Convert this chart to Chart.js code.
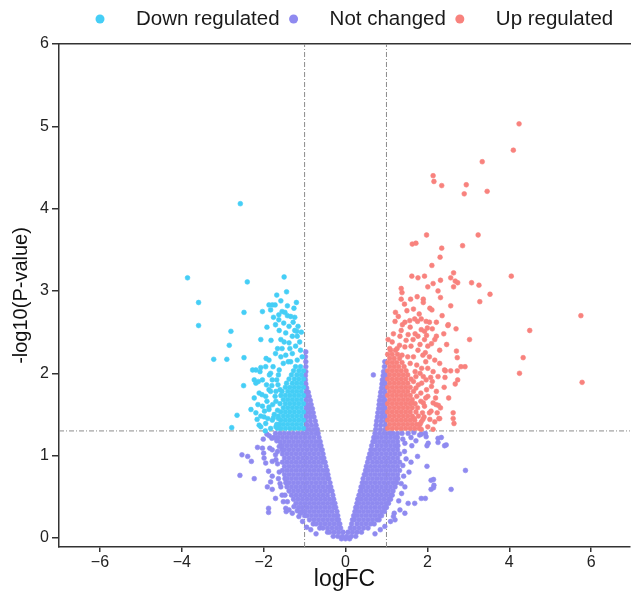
<!DOCTYPE html>
<html>
<head>
<meta charset="utf-8">
<title>Volcano plot</title>
<script src="https://cdn.jsdelivr.net/npm/chart.js@4.4.1/dist/chart.umd.min.js"></script>
<style>
  html, body { margin: 0; padding: 0; background: #fff; }
  #wrap { width: 633px; height: 596px; }
</style>
</head>
<body>
<div id="wrap"><canvas id="volcano" width="633" height="596"></canvas></div>
<script>
// axis ticks and limits
const xTicks = [-6, -4, -2, 0, 2, 4, 6];
const yTicks = [0, 1, 2, 3, 4, 5, 6];
const xMin = -7, xMax = 6.95, yMin = -0.11, yMax = 6;
const fcCut = 1;      // |logFC| threshold
const pCut = 1.3;     // -log10(0.05)

const groupLabels = ['Down regulated', 'Not changed', 'Up regulated'];
const groupColors = ['#45CEF6', '#8F8AF0', '#F8827D'];

// Not changed: rows [y, x, x, ...] read off the dense V cloud
const flatRows = [
  [-0.01, -0.10, 0, 0.10],
  [0.02, -0.30, -0.19, -0.08, 0.03, 0.14, 0.25],
  [0.07, -0.44, -0.39, -0.28, -0.17, -0.06, 0.06, 0.17, 0.28, 0.39],
  [0.12, -0.63, -0.55, -0.44, -0.33, -0.22, -0.12, 0.12, 0.22, 0.33, 0.44, 0.55],
  [0.17, -0.79, -0.72, -0.61, -0.50, -0.39, -0.28, -0.17, -0.14, 0.15, 0.28, 0.39, 0.50, 0.61, 0.70],
  [0.22, -0.88, -0.77, -0.66, -0.55, -0.44, -0.33, -0.22, -0.17, 0.17, 0.22, 0.33, 0.44, 0.55, 0.66, 0.77, 0.82],
  [0.27, -1.00, -0.94, -0.83, -0.72, -0.61, -0.50, -0.39, -0.28, -0.19, 0.20, 0.28, 0.39, 0.50, 0.61, 0.72, 0.83, 0.88],
  [0.32, -1.08, -0.99, -0.88, -0.77, -0.66, -0.55, -0.44, -0.33, -0.21, 0.23, 0.33, 0.44, 0.55, 0.66, 0.77, 0.88, 0.95],
  [0.37, -1.15, -1.05, -0.94, -0.83, -0.72, -0.61, -0.50, -0.39, -0.28, -0.24, 0.25, 0.28, 0.39, 0.50, 0.61, 0.72, 0.83, 0.94, 1.00],
  [0.42, -1.21, -1.10, -0.99, -0.88, -0.77, -0.66, -0.55, -0.44, -0.33, -0.26, 0.28, 0.33, 0.44, 0.55, 0.66, 0.77, 0.88, 0.99, 1.05],
  [0.47, -1.27, -1.16, -1.05, -0.94, -0.83, -0.72, -0.61, -0.50, -0.39, -0.29, 0.30, 0.39, 0.50, 0.61, 0.72, 0.83, 0.94, 1.05, 1.10],
  [0.52, -1.32, -1.21, -1.10, -0.99, -0.88, -0.77, -0.66, -0.55, -0.44, -0.31, 0.33, 0.44, 0.55, 0.66, 0.77, 0.88, 0.99, 1.10, 1.14],
  [0.57, -1.38, -1.27, -1.16, -1.05, -0.94, -0.83, -0.72, -0.61, -0.50, -0.39, -0.33, 0.36, 0.39, 0.50, 0.61, 0.72, 0.83, 0.94, 1.05, 1.16],
  [0.62, -1.43, -1.32, -1.21, -1.10, -0.99, -0.88, -0.77, -0.66, -0.55, -0.44, -0.36, 0.38, 0.44, 0.55, 0.66, 0.77, 0.88, 0.99, 1.10, 1.21],
  [0.67, -1.46, -1.38, -1.27, -1.16, -1.05, -0.94, -0.83, -0.72, -0.61, -0.50, -0.38, 0.41, 0.50, 0.61, 0.72, 0.83, 0.94, 1.05, 1.16, 1.25],
  [0.72, -1.48, -1.43, -1.32, -1.21, -1.10, -0.99, -0.88, -0.77, -0.66, -0.55, -0.44, -0.41, 0.43, 0.55, 0.66, 0.77, 0.88, 0.99, 1.10, 1.21, 1.28],
  [0.77, -1.49, -1.38, -1.27, -1.16, -1.05, -0.94, -0.83, -0.72, -0.61, -0.50, -0.43, 0.46, 0.50, 0.61, 0.72, 0.83, 0.94, 1.05, 1.16, 1.27],
  [0.82, -1.54, -1.43, -1.32, -1.21, -1.10, -0.99, -0.88, -0.77, -0.66, -0.55, -0.45, 0.49, 0.55, 0.66, 0.77, 0.88, 0.99, 1.10, 1.21, 1.32],
  [0.87, -1.49, -1.38, -1.27, -1.16, -1.05, -0.94, -0.83, -0.72, -0.61, -0.48, 0.51, 0.61, 0.72, 0.83, 0.94, 1.05, 1.16, 1.27],
  [0.92, -1.54, -1.43, -1.32, -1.21, -1.10, -0.99, -0.88, -0.77, -0.66, -0.55, -0.50, 0.54, 0.66, 0.77, 0.88, 0.99, 1.10, 1.21, 1.32],
  [0.97, -1.49, -1.38, -1.27, -1.16, -1.05, -0.94, -0.83, -0.72, -0.61, -0.53, 0.56, 0.61, 0.72, 0.83, 0.94, 1.05, 1.16, 1.27],
  [1.02, -1.54, -1.43, -1.32, -1.21, -1.10, -0.99, -0.88, -0.77, -0.66, -0.55, 0.59, 0.66, 0.77, 0.88, 0.99, 1.10, 1.21, 1.32],
  [1.07, -1.55, -1.49, -1.38, -1.27, -1.16, -1.05, -0.94, -0.83, -0.72, -0.61, -0.57, 0.62, 0.72, 0.83, 0.94, 1.05, 1.16, 1.27],
  [1.12, -1.58, -1.54, -1.43, -1.32, -1.21, -1.10, -0.99, -0.88, -0.77, -0.66, -0.60, 0.64, 0.77, 0.88, 0.99, 1.10, 1.21, 1.28],
  [1.17, -1.60, -1.49, -1.38, -1.27, -1.16, -1.05, -0.94, -0.83, -0.72, -0.62, 0.67, 0.72, 0.83, 0.94, 1.05, 1.16, 1.27],
  [1.22, -1.65, -1.54, -1.43, -1.32, -1.21, -1.10, -0.99, -0.88, -0.77, -0.65, 0.69, 0.77, 0.88, 0.99, 1.10, 1.21, 1.27],
  [1.27, -1.71, -1.60, -1.49, -1.38, -1.27, -1.16, -1.05, -0.94, -0.83, -0.72, -0.67, 0.72, 0.83, 0.94, 1.05, 1.16, 1.27],
  [1.32, -0.97, -0.88, -0.77, -0.69, 0.74, 0.85, 0.97],
  [1.37, -0.94, -0.83, -0.72, 0.75, 0.86, 0.97],
  [1.42, -0.97, -0.86, -0.74, 0.76, 0.87, 0.97],
  [1.47, -0.96, -0.86, -0.77, 0.78, 0.88, 0.97],
  [1.52, -0.97, -0.88, -0.79, 0.79, 0.89, 0.97],
  [1.57, -0.96, -0.88, -0.81, 0.81, 0.90, 0.97],
  [1.62, -0.97, -0.90, -0.84, 0.82, 0.91, 0.97],
  [1.67, -0.96, -0.86, 0.83, 0.92, 0.97],
  [1.72, -0.97, -0.89, 0.85, 0.94],
  [1.77, -0.96, -0.91, 0.86, 0.96],
  [1.82, -0.95, 0.88, 0.97],
  [1.87, -0.97, 0.89, 0.97],
  [1.92, -0.98, 0.90, 0.97],
  [1.97, -0.98, 0.92, 0.98],
  [2.02, -0.97, 0.93, 0.98],
  [2.08, -0.97, 0.95],
  [2.14, -0.97, 0.96],
  [2.20, -0.98],
  [2.26, -0.97]
];

// Not changed: loose points around the cloud [x, y]
const flatLoose = [
  [-2.53, 1.01], [-2.39, 0.99], [-2.30, 0.93], [-2.58, 0.76], [-2.23, 0.72], [-2.15, 1.10],
  [-2.01, 1.20], [-1.85, 1.09], [-1.99, 0.97], [-1.95, 0.91], [-1.79, 1.07], [-1.71, 1.01],
  [-1.88, 0.81], [-1.79, 0.75], [-1.91, 0.62], [-1.79, 0.59], [-1.71, 0.48], [-1.88, 0.36],
  [-1.88, 0.31], [-1.46, 0.36], [-1.45, 0.32], [-1.30, 0.30], [-1.18, 0.33], [-1.10, 0.30],
  [-1.55, 0.52], [-1.83, 0.68], [-1.38, 0.34], [-1.26, 0.38], [-1.14, 0.26], [-1.62, 1.11],
  [-2.03, 1.09], [-2.00, 1.03], [-1.79, 0.93], [-1.75, 1.22], [-1.86, 1.24], [-1.62, 0.80],
  [-1.60, 0.66], [-1.42, 0.44], [-1.05, 0.20], [-0.95, 0.13], [-0.85, 0.10], [-0.72, 0.05],
  [-1.66, 0.90], [-1.68, 1.18], [-1.66, 1.05], [-1.70, 0.95], [-1.64, 0.72], [-1.58, 0.62],
  [-1.80, 1.21], [-1.52, 0.44], [-1.48, 0.52], [-1.92, 1.26],
  [1.53, 1.27], [1.67, 1.28], [1.81, 1.25], [1.95, 1.27], [2.26, 1.21], [2.42, 1.12],
  [2.26, 1.16], [1.99, 1.12], [1.76, 0.99], [1.99, 0.87], [2.09, 0.70], [2.58, 0.59],
  [2.09, 0.59], [1.85, 0.48], [1.69, 0.42], [1.53, 0.42], [1.45, 0.62], [1.37, 0.54],
  [1.19, 0.30], [1.17, 0.26], [2.34, 1.22], [2.46, 1.13], [2.93, 0.82], [1.12, 1.27],
  [1.85, 1.26], [1.97, 1.23], [2.02, 1.15], [2.15, 0.71], [2.15, 0.61], [1.95, 0.48],
  [1.45, 0.30], [1.33, 0.34], [1.21, 0.22], [0.96, 0.14], [0.85, 0.10], [0.72, 0.05],
  [1.40, 1.20], [1.44, 1.05], [1.40, 0.88], [1.42, 0.75], [1.55, 0.80], [1.48, 0.96],
  [1.36, 0.66], [1.30, 0.45], [1.38, 1.27], [1.45, 1.15], [1.60, 1.22], [1.72, 1.18],
  [1.60, 0.92], [1.62, 1.12], [1.10, 0.20], [0.68, 1.98], [2.16, 0.64]
];

// Down regulated: dense block rows [y, x, ...] and loose points [x, y]
const downRows = [
  [1.33, -1.03, -1.14, -1.25, -1.36, -1.47, -1.58, -1.66],
  [1.38, -1.08, -1.19, -1.30, -1.41, -1.52, -1.62],
  [1.43, -1.03, -1.14, -1.25, -1.36, -1.47, -1.58],
  [1.48, -1.08, -1.19, -1.30, -1.41, -1.52, -1.64],
  [1.53, -1.03, -1.14, -1.25, -1.36, -1.47, -1.58],
  [1.58, -1.08, -1.19, -1.30, -1.41, -1.52],
  [1.63, -1.03, -1.14, -1.25, -1.36, -1.47, -1.60],
  [1.68, -1.08, -1.19, -1.30, -1.41, -1.52],
  [1.73, -1.03, -1.14, -1.25, -1.36, -1.47, -1.58],
  [1.78, -1.08, -1.19, -1.30, -1.41, -1.55],
  [1.83, -1.03, -1.14, -1.25, -1.36, -1.47],
  [1.88, -1.08, -1.19, -1.30, -1.44],
  [1.93, -1.03, -1.14, -1.25, -1.38],
  [1.98, -1.08, -1.19, -1.32],
  [2.03, -1.03, -1.14, -1.27],
  [2.08, -1.10, -1.22]
];
const downLoose = [
  [-2.57, 4.06], [-3.86, 3.16], [-2.40, 3.11], [-1.50, 3.17], [-1.44, 2.99], [-1.68, 2.95],
  [-3.59, 2.86], [-3.59, 2.58], [-2.48, 2.74], [-1.87, 2.83], [-1.79, 2.83], [-1.72, 2.83],
  [-1.83, 2.77], [-2.03, 2.75], [-2.80, 2.51], [-2.84, 2.34], [-2.07, 2.41], [-3.22, 2.17],
  [-2.90, 2.17], [-2.48, 2.19], [-2.49, 1.85], [-2.65, 1.49], [-2.78, 1.34],
  [-1.55, 2.75], [-1.48, 2.74], [-1.63, 2.71], [-1.42, 2.70], [-1.26, 2.79], [-1.34, 2.69],
  [-1.24, 2.68], [-1.71, 2.59], [-1.63, 2.65], [-1.51, 2.61], [-1.16, 2.57], [-1.19, 2.51],
  [-1.38, 2.57], [-1.18, 2.45], [-1.30, 2.45], [-1.46, 2.49], [-1.58, 2.41], [-1.38, 2.37],
  [-1.22, 2.33], [-1.55, 2.30], [-1.71, 2.24], [-1.46, 2.22], [-1.30, 2.24], [-1.10, 2.28],
  [-1.87, 2.16], [-2.19, 2.04], [-2.09, 2.02], [-1.95, 2.08], [-1.83, 2.00], [-2.03, 1.92],
  [-1.93, 1.86], [-2.19, 1.88], [-1.79, 1.92], [-2.11, 1.76], [-2.23, 1.70], [-1.95, 1.72],
  [-1.83, 1.78], [-2.03, 1.60], [-1.87, 1.56], [-2.07, 1.48], [-1.95, 1.39], [-1.79, 1.43],
  [-1.83, 1.33], [-2.11, 1.37], [-2.19, 1.52], [-2.31, 1.56], [-2.27, 2.04], [-2.23, 1.92],
  [-2.13, 1.90], [-2.07, 2.07], [-1.87, 1.80], [-1.87, 1.59], [-1.99, 1.47], [-2.07, 1.35],
  [-1.70, 1.66], [-1.68, 1.38], [-1.74, 1.50], [-1.65, 1.86], [-1.62, 2.04], [-1.40, 2.14],
  [-1.52, 2.12], [-1.64, 1.98], [-1.72, 1.72],
  [-1.70, 1.35], [-1.76, 1.46], [-1.66, 1.55], [-1.78, 1.62], [-1.70, 1.78], [-1.80, 1.85],
  [-1.68, 1.92], [-1.77, 2.08], [-1.58, 2.20], [-1.92, 1.66], [-1.98, 1.54], [-1.90, 1.45],
  [-1.96, 1.30], [-2.04, 1.74], [-1.60, 1.80], [-1.64, 1.45], [-1.86, 1.98], [-1.94, 2.18],
  [-2.14, 1.62], [-2.16, 1.44], [-1.12, 2.38], [-1.24, 2.52], [-1.36, 2.30], [-1.50, 2.38],
  [-1.62, 2.52], [-1.28, 2.62], [-1.42, 2.82], [-1.58, 2.88], [-1.76, 2.68], [-1.92, 2.56],
  [-1.06, 2.20], [-1.18, 2.16], [-1.34, 2.14], [-1.20, 2.86], [-1.66, 2.30], [-1.82, 2.40],
  [-1.08, 2.50]
];

// Up regulated: dense block rows [y, x, ...] and loose points [x, y]
const upRows = [
  [1.33, 1.03, 1.14, 1.25, 1.36, 1.47, 1.58, 1.69, 1.80],
  [1.38, 1.08, 1.19, 1.30, 1.41, 1.52, 1.63, 1.74],
  [1.43, 1.03, 1.14, 1.25, 1.36, 1.47, 1.58, 1.69],
  [1.48, 1.08, 1.19, 1.30, 1.41, 1.52, 1.63, 1.78],
  [1.53, 1.03, 1.14, 1.25, 1.36, 1.47, 1.58, 1.72],
  [1.58, 1.08, 1.19, 1.30, 1.41, 1.52, 1.63],
  [1.63, 1.03, 1.14, 1.25, 1.36, 1.47, 1.58, 1.70],
  [1.68, 1.08, 1.19, 1.30, 1.41, 1.52, 1.63],
  [1.73, 1.03, 1.14, 1.25, 1.36, 1.47, 1.58],
  [1.78, 1.08, 1.19, 1.30, 1.41, 1.52, 1.66],
  [1.83, 1.03, 1.14, 1.25, 1.36, 1.47, 1.58],
  [1.88, 1.08, 1.19, 1.30, 1.41, 1.52],
  [1.93, 1.03, 1.14, 1.25, 1.36, 1.47, 1.60],
  [1.98, 1.08, 1.19, 1.30, 1.41, 1.52],
  [2.03, 1.03, 1.14, 1.25, 1.36, 1.48],
  [2.08, 1.08, 1.19, 1.30, 1.43],
  [2.13, 1.03, 1.14, 1.25, 1.38],
  [2.18, 1.08, 1.19, 1.32],
  [2.23, 1.03, 1.14, 1.27],
  [2.28, 1.10, 1.22]
];
const upLoose = [
  [4.24, 5.03], [4.10, 4.71], [3.34, 4.57], [2.14, 4.40], [2.16, 4.33], [2.35, 4.28],
  [2.95, 4.29], [2.90, 4.18], [3.46, 4.21], [1.98, 3.68], [3.24, 3.68], [1.63, 3.57],
  [1.72, 3.58], [2.86, 3.55], [2.35, 3.52], [2.31, 3.41], [2.11, 3.31], [4.05, 3.18],
  [1.62, 3.18], [1.77, 3.16], [1.93, 3.18], [2.64, 3.22], [2.57, 3.16], [2.68, 3.12],
  [2.74, 3.10], [2.32, 3.13], [2.14, 3.09], [2.01, 3.05], [3.08, 3.10], [3.26, 3.07],
  [2.64, 3.05], [1.36, 3.03], [1.38, 2.98], [1.36, 2.90], [3.53, 2.96], [3.28, 2.87],
  [2.26, 3.00], [2.32, 2.92], [1.59, 2.90], [1.75, 2.93], [1.90, 2.90], [1.90, 2.86],
  [1.50, 2.76], [2.06, 2.79], [2.11, 2.77], [2.57, 2.82], [5.75, 2.70], [4.50, 2.52],
  [3.03, 2.41], [4.34, 2.19], [4.25, 2.00], [5.78, 1.89], [2.70, 2.54], [2.50, 2.58],
  [2.47, 2.35], [2.71, 2.27], [2.73, 2.19], [2.92, 2.08], [2.82, 2.08], [2.73, 2.03],
  [2.57, 2.03], [2.44, 2.03], [2.74, 1.92], [2.68, 1.87], [2.43, 1.95], [2.41, 1.83],
  [2.52, 1.70], [2.63, 1.52], [2.63, 1.45], [2.65, 1.39], [2.28, 1.45], [2.21, 1.62],
  [2.27, 1.61], [1.90, 1.64], [2.09, 1.54], [1.85, 1.41], [2.32, 1.58], [2.30, 1.45],
  [1.29, 2.69], [1.21, 2.63], [1.39, 2.59], [1.45, 2.62], [1.57, 2.64], [1.69, 2.66],
  [1.76, 2.63], [1.85, 2.66], [1.97, 2.63], [2.05, 2.62], [2.00, 2.55], [1.93, 2.51],
  [1.85, 2.53], [2.51, 2.59], [2.22, 2.62], [2.18, 2.41], [2.22, 2.45], [2.10, 2.36],
  [2.01, 2.33], [1.93, 2.41], [1.77, 2.45], [1.65, 2.41], [1.53, 2.47], [1.33, 2.45],
  [1.17, 2.48], [1.04, 2.41], [1.45, 2.32], [1.77, 2.28], [1.89, 2.22], [2.05, 2.20],
  [2.18, 2.16], [2.30, 2.12], [2.01, 2.06], [2.14, 2.02], [2.26, 1.96], [1.97, 1.92],
  [2.10, 1.84], [2.22, 1.78], [2.01, 1.72], [2.14, 1.64], [1.93, 1.60], [2.05, 1.52],
  [1.89, 1.44], [2.01, 1.35], [2.18, 1.41], [1.85, 1.32], [2.42, 2.04], [1.66, 2.20],
  [1.58, 2.12], [1.70, 2.02], [1.78, 1.86], [1.72, 1.96], [1.84, 1.76], [1.90, 1.96],
  [1.60, 2.33], [1.32, 2.34], [1.88, 1.52], [1.98, 1.80], [2.08, 1.95],
  [1.82, 1.38], [1.92, 1.47], [1.76, 1.58], [1.84, 1.66], [1.96, 1.70], [1.72, 1.82],
  [1.86, 1.88], [1.66, 1.90], [1.74, 2.10], [1.86, 2.06], [1.96, 2.14], [2.12, 1.90],
  [2.20, 1.70], [2.06, 1.44], [2.14, 1.32], [2.24, 1.52], [1.68, 1.45], [1.74, 1.72],
  [1.62, 1.64], [1.82, 2.00], [1.14, 2.38], [1.26, 2.30], [1.36, 2.52], [1.48, 2.40],
  [1.58, 2.56], [1.70, 2.48], [1.82, 2.35], [1.98, 2.46], [2.12, 2.54], [2.30, 2.28],
  [1.22, 2.74], [1.44, 2.84], [1.66, 2.78], [1.80, 2.72], [1.08, 2.30], [1.38, 2.22],
  [1.52, 2.20], [2.36, 2.70], [2.40, 2.48], [1.95, 2.25]
];

const toRowPoints = rows => rows.flatMap(([y, ...xs]) => xs.map(x => ({ x, y })));
const toPairPoints = pairs => pairs.map(([x, y]) => ({ x, y }));

const fontFamily = '"Liberation Sans", Arial, Helvetica, sans-serif';

function pointSet(label, color, points) {
  return {
    label: label,
    data: points,
    backgroundColor: color,
    borderColor: color,
    pointRadius: 2.4,
    pointBorderWidth: 0.6,
    pointHoverRadius: 2.4
  };
}

function cutLine(points) {
  return {
    label: 'cut',
    data: points,
    showLine: true,
    borderColor: '#8c8c8c',
    borderWidth: 1,
    borderDash: [5, 2, 1, 2],
    pointRadius: 0,
    fill: false
  };
}

// legend drawn in one row above the plot
const topLegend = {
  id: 'topLegend',
  afterDraw(chart) {
    const ctx = chart.ctx;
    ctx.save();
    ctx.font = '20.5px ' + fontFamily;
    ctx.textBaseline = 'middle';
    let x = 100;
    const y = 19;
    groupLabels.forEach((label, i) => {
      ctx.fillStyle = groupColors[i];
      ctx.beginPath();
      ctx.arc(x, y, 4.5, 0, Math.PI * 2);
      ctx.fill();
      ctx.fillStyle = '#1a1a1a';
      ctx.fillText(label, x + 36, y);
      x += 36 + ctx.measureText(label).width + 14;
    });
    ctx.restore();
  }
};

const ctx = document.getElementById('volcano').getContext('2d');
const volcanoChart = new Chart(ctx, {
  type: 'scatter',
  data: {
    datasets: [
      pointSet(groupLabels[0], groupColors[0], toRowPoints(downRows).concat(toPairPoints(downLoose))),
      pointSet(groupLabels[2], groupColors[2], toRowPoints(upRows).concat(toPairPoints(upLoose))),
      pointSet(groupLabels[1], groupColors[1], toRowPoints(flatRows).concat(toPairPoints(flatLoose))),
      cutLine([{ x: -fcCut, y: yMin }, { x: -fcCut, y: yMax }]),
      cutLine([{ x: fcCut, y: yMin }, { x: fcCut, y: yMax }]),
      cutLine([{ x: xMin, y: pCut }, { x: xMax, y: pCut }])
    ]
  },
  options: {
    responsive: false,
    devicePixelRatio: 1,
    animation: false,
    events: [],
    layout: { padding: { top: 44, left: 0, right: 0, bottom: 0 } },
    plugins: {
      legend: { display: false },
      tooltip: { enabled: false }
    },
    scales: {
      x: {
        type: 'linear',
        position: 'bottom',
        min: xMin,
        max: xMax,
        afterBuildTicks: scale => { scale.ticks = xTicks.map(v => ({ value: v })); },
        afterFit: scale => { scale.height = 49; },
        ticks: {
          color: '#222',
          padding: 1,
          font: { family: fontFamily, size: 16 },
          callback: v => (v < 0 ? '\u2212' + Math.abs(v) : String(v))
        },
        grid: { drawOnChartArea: false, drawTicks: true, tickLength: 5, color: '#333', lineWidth: 1.5 },
        border: { display: true, color: '#333', width: 1.5 },
        title: {
          display: true,
          text: 'logFC',
          color: '#111',
          font: { family: fontFamily, size: 23 },
          padding: { top: 0, bottom: 3 }
        }
      },
      xTop: {
        type: 'linear',
        position: 'top',
        min: xMin,
        max: xMax,
        afterFit: scale => { scale.height = 0; },
        ticks: { display: false },
        grid: { display: false },
        border: { display: true, color: '#333', width: 1.5 }
      },
      y: {
        type: 'linear',
        min: yMin,
        max: yMax,
        afterBuildTicks: scale => { scale.ticks = yTicks.map(v => ({ value: v })); },
        afterFit: scale => { scale.width = 59; },
        ticks: {
          color: '#222',
          padding: 3,
          font: { family: fontFamily, size: 16 }
        },
        grid: { drawOnChartArea: false, drawTicks: true, tickLength: 7, color: '#333', lineWidth: 1.5 },
        border: { display: true, color: '#333', width: 1.5 },
        title: {
          display: true,
          text: '-log10(P-value)',
          color: '#111',
          font: { family: fontFamily, size: 20 },
          padding: { top: 9, bottom: 0 }
        }
      }
    }
  },
  plugins: [topLegend]
});
</script>
</body>
</html>
